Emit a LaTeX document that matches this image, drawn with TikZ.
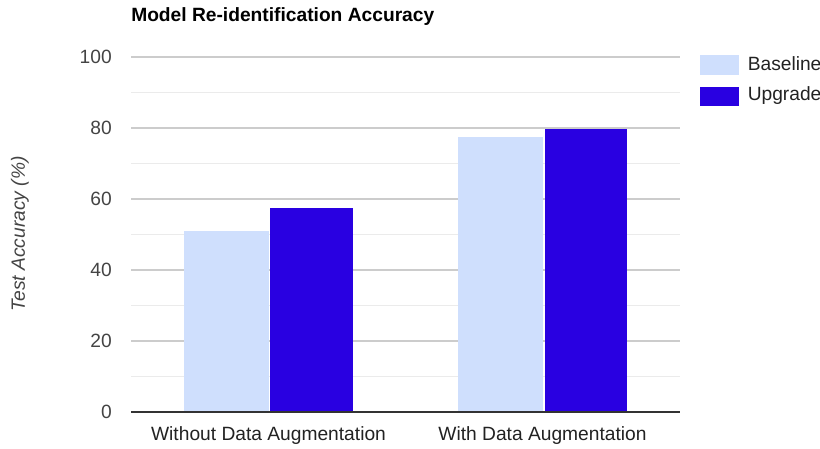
\documentclass[tikz,border=0pt]{standalone}
\usepackage{fontspec}
\setmainfont{Liberation Sans}
\definecolor{basefill}{HTML}{CFDFFD}
\definecolor{upgfill}{HTML}{2900E1}
\definecolor{majgrid}{HTML}{CCCCCC}
\definecolor{mingrid}{HTML}{EBEBEB}
\definecolor{axisline}{HTML}{333333}
\definecolor{ticktext}{HTML}{444444}
\definecolor{labeltext}{HTML}{222222}
\begin{document}
\begin{tikzpicture}[x=0.75pt,y=-0.75pt,
  txt/.style={inner sep=0pt, font=\fontsize{14.4}{17}\selectfont},
  ticklbl/.style={txt, text=ticktext, anchor=east},
  catlbl/.style={txt, text=labeltext, anchor=base},
  leglbl/.style={txt, text=labeltext, anchor=base west},
  majorline/.style={draw=majgrid, line width=1.1pt},
  minorline/.style={draw=mingrid, line width=1.1pt},
  basebar/.style={fill=basefill},
  upgbar/.style={fill=upgfill}]
\useasboundingbox (0,0) rectangle (820,449);

% gridlines (minor every 10, major every 20)
\foreach \v in {10,30,50,70,90}
  \draw[minorline] (131,{412-3.55*\v}) -- (680,{412-3.55*\v});
\foreach \v in {20,40,60,80,100}
  \draw[majorline] (131,{412-3.55*\v}) -- (680,{412-3.55*\v});

% tick labels
\foreach \v in {0,20,40,60,80,100}
  \node[ticklbl] (tick\v) at (112,{412-3.55*\v}) {\v};

% bars
\fill[basebar] (184,412) rectangle (269,{412-3.55*51});
\fill[upgbar]  (270,412) rectangle (353,{412-3.55*57.5});
\fill[basebar] (458,412) rectangle (543,{412-3.55*77.5});
\fill[upgbar]  (545,412) rectangle (627,{412-3.55*79.8});

% baseline axis
\draw[axisline, line width=1.2pt] (131,412) -- (680,412);

% category labels
\node[catlbl] (cat1) at (268.5,440.5) {Without Data Augmentation};
\node[catlbl] (cat2) at (542.5,440.5) {With Data Augmentation};

% axis title
\node[txt, text=ticktext, rotate=90, font=\fontsize{14.4}{17}\selectfont\itshape] (ytitle) at (20,234) {Test Accuracy (\%)};

% chart title
\node[txt, anchor=base west, font=\fontsize{14.4}{17}\selectfont\bfseries] (title) at (131,21.5) {Model Re-identification Accuracy};

% legend
\fill[basebar] (700,55.5) rectangle (738.5,75.5);
\node[leglbl] (legbase) at (747.5,71) {Baseline};
\fill[upgbar] (700,87) rectangle (738.5,106);
\node[leglbl] (legupg) at (747.5,101) {Upgrade};
\end{tikzpicture}
\end{document}
